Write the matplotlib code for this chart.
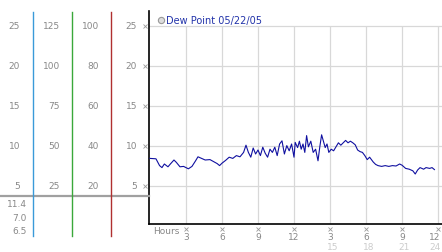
import matplotlib
matplotlib.use("Agg")
import matplotlib.pyplot as plt
import matplotlib.transforms as mtransforms
from matplotlib.lines import Line2D

# dew point readings (hour of day, value)
hours = [0.0, 0.5, 0.8, 1.0, 1.2, 1.5, 1.7, 2.0, 2.2, 2.5, 2.8, 3.0, 3.2, 3.5, 3.8,
         4.0, 4.3, 4.6, 5.0, 5.3, 5.6, 5.8, 6.0, 6.3, 6.6, 6.9, 7.2, 7.5, 7.8, 8.0,
         8.2, 8.4, 8.6, 8.8, 9.0, 9.2, 9.4, 9.6, 9.8, 10.0, 10.2, 10.4, 10.6, 10.8,
         11.0, 11.2, 11.4, 11.6, 11.8, 12.0, 12.1, 12.3, 12.45, 12.6, 12.75, 12.9,
         13.05, 13.2, 13.4, 13.6, 13.8, 14.0, 14.15, 14.3, 14.45, 14.6, 14.75, 14.9,
         15.1, 15.3, 15.5, 15.7, 15.9, 16.1, 16.3, 16.5, 16.7, 16.9, 17.1, 17.3,
         17.5, 17.7, 17.9, 18.1, 18.3, 18.6, 18.8, 19.0, 19.3, 19.6, 19.9, 20.2,
         20.5, 20.8, 21.0, 21.3, 21.6, 21.9, 22.1, 22.3, 22.5, 22.8, 23.0, 23.3,
         23.5, 23.7]
dew_point = [8.45, 8.4, 7.55, 7.3, 7.75, 7.4, 7.75, 8.25, 7.95, 7.4, 7.45, 7.3, 7.15, 7.45, 8.15,
             8.65, 8.45, 8.25, 8.3, 8.05, 7.8, 7.55, 7.85, 8.2, 8.6, 8.45, 8.8, 8.65, 9.2, 10.1,
             9.2, 8.6, 9.75, 9.0, 9.5, 8.8, 9.85, 9.1, 8.6, 9.6, 9.2, 9.85, 8.8, 10.25,
             10.65, 9.0, 10.05, 9.4, 10.25, 8.6, 10.45, 9.8, 10.6, 9.6, 10.25, 9.2,
             11.3, 9.9, 10.6, 9.2, 9.6, 8.15, 9.9, 11.4, 10.6, 9.8, 10.25, 9.2,
             9.6, 9.4, 9.9, 10.4, 10.1, 10.4, 10.7, 10.4, 10.6, 10.4, 10.15, 9.5,
             9.3, 9.2, 8.8, 8.3, 8.6, 8.0, 7.7, 7.55, 7.45, 7.55, 7.45, 7.55,
             7.5, 7.75, 7.6, 7.2, 7.1, 6.9, 6.5, 7.0, 7.3, 7.1, 7.3, 7.2,
             7.3, 7.05]

y_ticks = [5, 10, 15, 20, 25]
col1 = ["5", "10", "15", "20", "25"]
col2 = ["25", "50", "75", "100", "125"]
col3 = ["20", "40", "60", "80", "100"]
col4 = ["5", "10", "15", "20", "25"]
stats = ["11.4", "7.0", "6.5"]
x_ticks = [3, 6, 9, 12, 15, 18, 21, 24]
x_labels = ["3", "6", "9", "12", "3", "6", "9", "12"]
x_labels2 = {15: "15", 18: "18", 21: "21", 24: "24"}
legend_label = "Dew Point 05/22/05"

W, H = 442, 253
fig = plt.figure(figsize=(W / 100, H / 100), dpi=100)
ax = fig.add_axes([149 / W, (H - 225) / H, 293 / W, 213 / H])
ax.set_xlim(-0.08, 24.33)
ax.set_ylim(0.25, 26.875)

grid_c = "#d8d8d8"
for v in y_ticks:
    ax.axhline(v, color=grid_c, lw=0.9, zorder=1)
ax.vlines(x_ticks, 0.25, 25, color=grid_c, lw=0.9, zorder=1)

ax.plot(hours, dew_point, color="#1010a0", lw=0.8, zorder=3)

for s in ["top", "right"]:
    ax.spines[s].set_visible(False)
for s in ["left", "bottom"]:
    ax.spines[s].set_color("black")
    ax.spines[s].set_linewidth(1.2)
ax.set_xticks([])
ax.set_yticks([])

# little x-shaped tick markers
ax.plot([-4 / 293 * 24.41 - 0.08] * len(y_ticks), y_ticks, ls="none", marker="x",
        ms=2.5, mew=0.6, color="#999999", clip_on=False)
ax.plot(x_ticks, [0.25 - 5 / 8] * len(x_ticks), ls="none", marker="x",
        ms=2.5, mew=0.6, color="#999999", clip_on=False)

# x labels (last one nudged left so it stays inside the picture)
tr_x = mtransforms.blended_transform_factory(ax.transData, fig.transFigure)
for h, lab in zip(x_ticks, x_labels):
    xpos = h - 0.25 if h == 24 else h
    fig.text(xpos, 1 - 238 / H, lab, transform=tr_x, ha="center", va="center",
             fontsize=6.5, color="#888888")
for h, lab in x_labels2.items():
    xpos = h - 0.25 if h == 24 else h + 0.2
    fig.text(xpos, 1 - 248 / H, lab, transform=tr_x, ha="center", va="center",
             fontsize=6.5, color="#cccccc")
fig.text(153 / W, 1 - 232 / H, "Hours", ha="left", va="center", fontsize=6.5, color="#888888")

# left scale panel
tr_y = mtransforms.blended_transform_factory(fig.transFigure, ax.transData)
for col, right in [(col1, 20), (col2, 60), (col3, 99), (col4, 137)]:
    for v, lab in zip(y_ticks, col):
        fig.text(right / W, v, lab, transform=tr_y, ha="right", va="center",
                 fontsize=6.5, color="#888888")

fig.add_artist(Line2D([0, 149 / W], [1 - 197 / H] * 2, color="#a0a0a0", lw=1.6))
for x, c in [(33.3, "#3a9ad9"), (72.3, "#3aa83a"), (111.3, "#b03030")]:
    fig.add_artist(Line2D([x / W] * 2, [1 - 12.7 / H, 1 - 237 / H], color=c, lw=1.0))

for y, lab in zip([205, 218.3, 231.7], stats):
    fig.text(27 / W, 1 - y / H, lab, ha="right", va="center", fontsize=6.5, color="#888888")

# legend
fig.add_artist(Line2D([160.7 / W], [1 - 20.7 / H], marker="o", ms=4.5, mfc="#dddddd",
                      mec="#999999", mew=0.8, ls="none"))
fig.text(166 / W, 1 - 20.7 / H, legend_label, ha="left", va="center", fontsize=7,
         color="#2233aa")

fig.savefig("out.png", dpi=100)
